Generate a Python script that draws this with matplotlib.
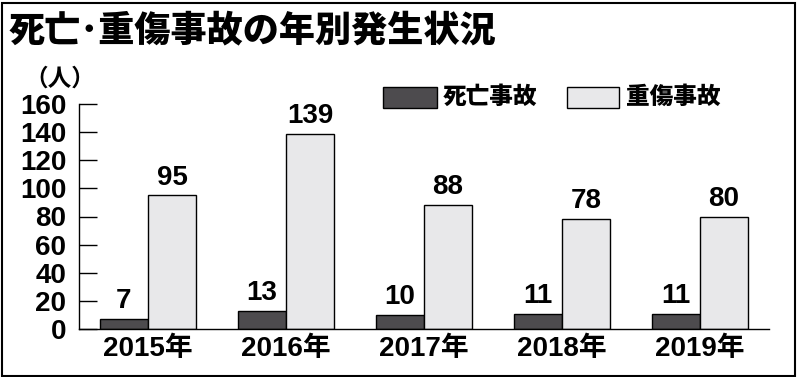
import matplotlib
matplotlib.use("Agg")
import matplotlib.pyplot as plt
from matplotlib.patches import Rectangle
from matplotlib import font_manager
import numpy as np

years = ["2015年", "2016年", "2017年", "2018年", "2019年"]
deaths = [7, 13, 10, 11, 11]
serious = [95, 139, 88, 78, 80]
series_names = ["死亡事故", "重傷事故"]
yticks = [0, 20, 40, 60, 80, 100, 120, 140, 160]

names = {f.name for f in font_manager.fontManager.ttflist}
narrow = "Liberation Sans Narrow" if "Liberation Sans Narrow" in names else "Liberation Sans"
NUM = [narrow, "Noto Sans CJK JP"]
CJK = ["Noto Sans CJK JP", "DejaVu Sans"]

W, H = 798, 377
fig = plt.figure(figsize=(W / 100, H / 100), dpi=100)
fig.patch.set_facecolor("white")

ax = fig.add_axes([79 / W, (H - 329) / H, 690 / W, 225 / H])
x = np.arange(len(years))
bw = 0.348
dark = "#4d4b4e"
light = "#e8e8ea"
b1 = ax.bar(x - bw / 2, deaths, bw, color=dark, edgecolor="black", linewidth=1.0)
b2 = ax.bar(x + bw / 2, serious, bw, color=light, edgecolor="black", linewidth=1.0)

for bars, vals in ((b1, deaths), (b2, serious)):
    for r, v in zip(bars, vals):
        ax.annotate(str(v), (r.get_x() + r.get_width() / 2, v), xytext=(0, 3.5),
                    textcoords="offset points", ha="center", va="bottom",
                    fontsize=20, fontweight="bold", family=NUM)

ax.set_xlim(-0.5, len(years) - 0.5)
ax.set_ylim(0, 160)
ax.set_yticks(yticks)
ax.set_yticklabels([str(t) for t in yticks], fontsize=20, fontweight="bold", family=NUM)
ax.set_xticks(x)
ax.set_xticklabels(years, fontsize=20, fontweight="bold", family=NUM)
ax.tick_params(axis="y", direction="in", length=13, width=1.0, pad=9)
ax.tick_params(axis="x", length=0, pad=5)
for s in ("top", "right"):
    ax.spines[s].set_visible(False)
for s in ("left", "bottom"):
    ax.spines[s].set_linewidth(1.0)

# y unit label
fig.text(24 / W, 1 - 79 / H, "（人）", fontsize=17, fontweight="bold", family=CJK,
         ha="left", va="center")

# title
fig.text(9 / W, 1 - 30 / H, "死亡･重傷事故の年別発生状況", fontsize=26, fontweight="heavy",
         family=CJK, ha="left", va="center")

# legend
for (x0, x1, col, label, tx) in ((383, 437, dark, series_names[0], 443),
                                  (567, 619, light, series_names[1], 626)):
    fig.patches.append(Rectangle((x0 / W, 1 - 108 / H), (x1 - x0) / W, 21 / H,
                                 transform=fig.transFigure, facecolor=col,
                                 edgecolor="black", linewidth=1.0))
    fig.text(tx / W, 1 - 97 / H, label, fontsize=17, fontweight="heavy", family=CJK,
             ha="left", va="center")

# outer frame
fig.patches.append(Rectangle((2 / W, 1.5 / H), (W - 5) / W, (H - 4) / H,
                             transform=fig.transFigure, fill=False,
                             edgecolor="black", linewidth=1.5))

fig.savefig("out.png", dpi=100)
